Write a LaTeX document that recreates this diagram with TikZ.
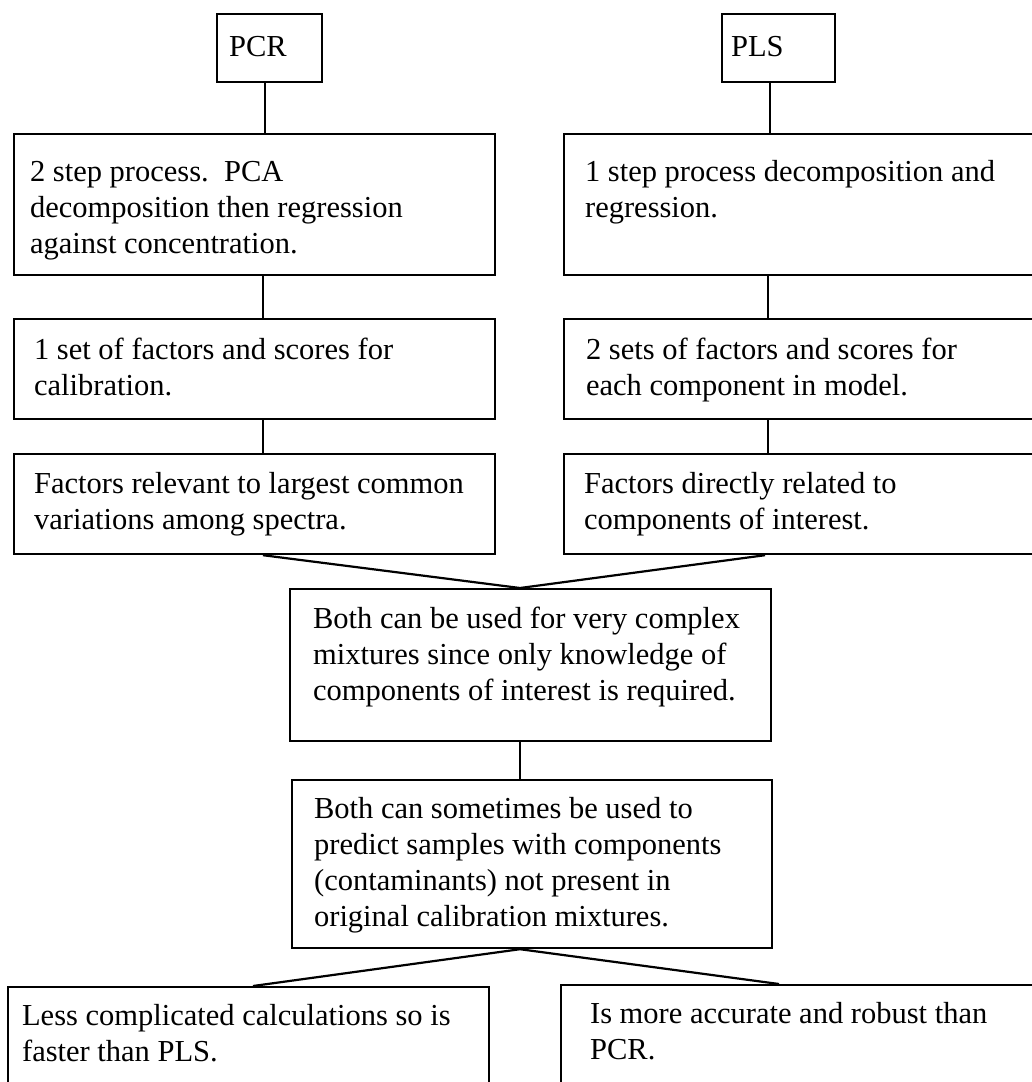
\documentclass[tikz,border=0pt]{standalone}
\usepackage{fontspec}
\setmainfont{Liberation Serif}

% Box text: width, height, left padding, first baseline offset, lines
\newcommand{\paneltext}[5]{%
  \parbox[c][#2][t]{#1}{\leftskip=#3\relax\parindent=0pt\relax
    \rightskip=0pt plus 1fil\relax
    \rule{0pt}{#4}#5\par}}

\tikzset{
  panel/.style={draw=black, line width=2.2pt, inner sep=0pt, anchor=north west,
    font=\fontsize{30.5}{36}\selectfont},
  link/.style={draw=black, line width=2.2pt}
}

\begin{document}
\begin{tikzpicture}[x=1pt, y=-1pt]
  \clip (0,0) rectangle (1032,1082);
  \fill[white] (0,0) rectangle (1032,1082);

  % method headings
  \node[panel] (pcr) at (216,13) {\paneltext{105pt}{68pt}{12pt}{42pt}{PCR}};
  \node[panel] (pls) at (721,13) {\paneltext{113pt}{68pt}{9pt}{42pt}{PLS}};

  % PCR column
  \node[panel] (a1) at (13,133) {\paneltext{481pt}{141pt}{16pt}{47pt}{%
    2 step process.\ \ PCA\\decomposition then regression\\against concentration.}};
  \node[panel] (a2) at (13,318) {\paneltext{481pt}{100pt}{20pt}{40pt}{%
    1 set of factors and scores for\\calibration.}};
  \node[panel] (a3) at (13,453) {\paneltext{481pt}{100pt}{20pt}{39pt}{%
    Factors relevant to largest common\\variations among spectra.}};

  % PLS column
  \node[panel] (b1) at (563,133) {\paneltext{477pt}{141pt}{21pt}{47pt}{%
    1 step process decomposition and\\regression.}};
  \node[panel] (b2) at (563,318) {\paneltext{477pt}{100pt}{22pt}{40pt}{%
    2 sets of factors and scores for\\each component in model.}};
  \node[panel] (b3) at (563,453) {\paneltext{477pt}{100pt}{20pt}{39pt}{%
    Factors directly related to\\components of interest.}};

  % shared properties
  \node[panel] (mid) at (289,588) {\paneltext{481pt}{152pt}{23pt}{39pt}{%
    Both can be used for very complex\\mixtures since only knowledge of\\components of interest is required.}};
  \node[panel] (both2) at (291,779) {\paneltext{480pt}{168pt}{22pt}{38pt}{%
    Both can sometimes be used to\\predict samples with components\\(contaminants) not present in\\original calibration mixtures.}};

  % differences
  \node[panel] (c1) at (7,986) {\paneltext{481pt}{104pt}{14pt}{38pt}{%
    Less complicated calculations so is\\faster than PLS.}};
  \node[panel] (c2) at (560,984) {\paneltext{480pt}{106pt}{29pt}{38pt}{%
    Is more accurate and robust than\\PCR.}};

  % connectors
  \draw[link] ([xshift=49pt]pcr.south west) -- ([xshift=252pt]a1.north west);
  \draw[link] ([xshift=49pt]pls.south west) -- ([xshift=207pt]b1.north west);
  \draw[link] ([xshift=250pt]a1.south west) -- ([xshift=250pt]a2.north west);
  \draw[link] ([xshift=250pt]a2.south west) -- ([xshift=250pt]a3.north west);
  \draw[link] ([xshift=205pt]b1.south west) -- ([xshift=205pt]b2.north west);
  \draw[link] ([xshift=205pt]b2.south west) -- ([xshift=205pt]b3.north west);
  \draw[link] ([xshift=250pt]a3.south west) -- ([xshift=231pt]mid.north west);
  \draw[link] ([xshift=202pt]b3.south west) -- ([xshift=231pt]mid.north west);
  \draw[link] ([xshift=231pt]mid.south west) -- ([xshift=229pt]both2.north west);
  \draw[link] ([xshift=229pt]both2.south west) -- ([xshift=246pt]c1.north west);
  \draw[link] ([xshift=229pt]both2.south west) -- ([xshift=219pt]c2.north west);
\end{tikzpicture}
\end{document}
